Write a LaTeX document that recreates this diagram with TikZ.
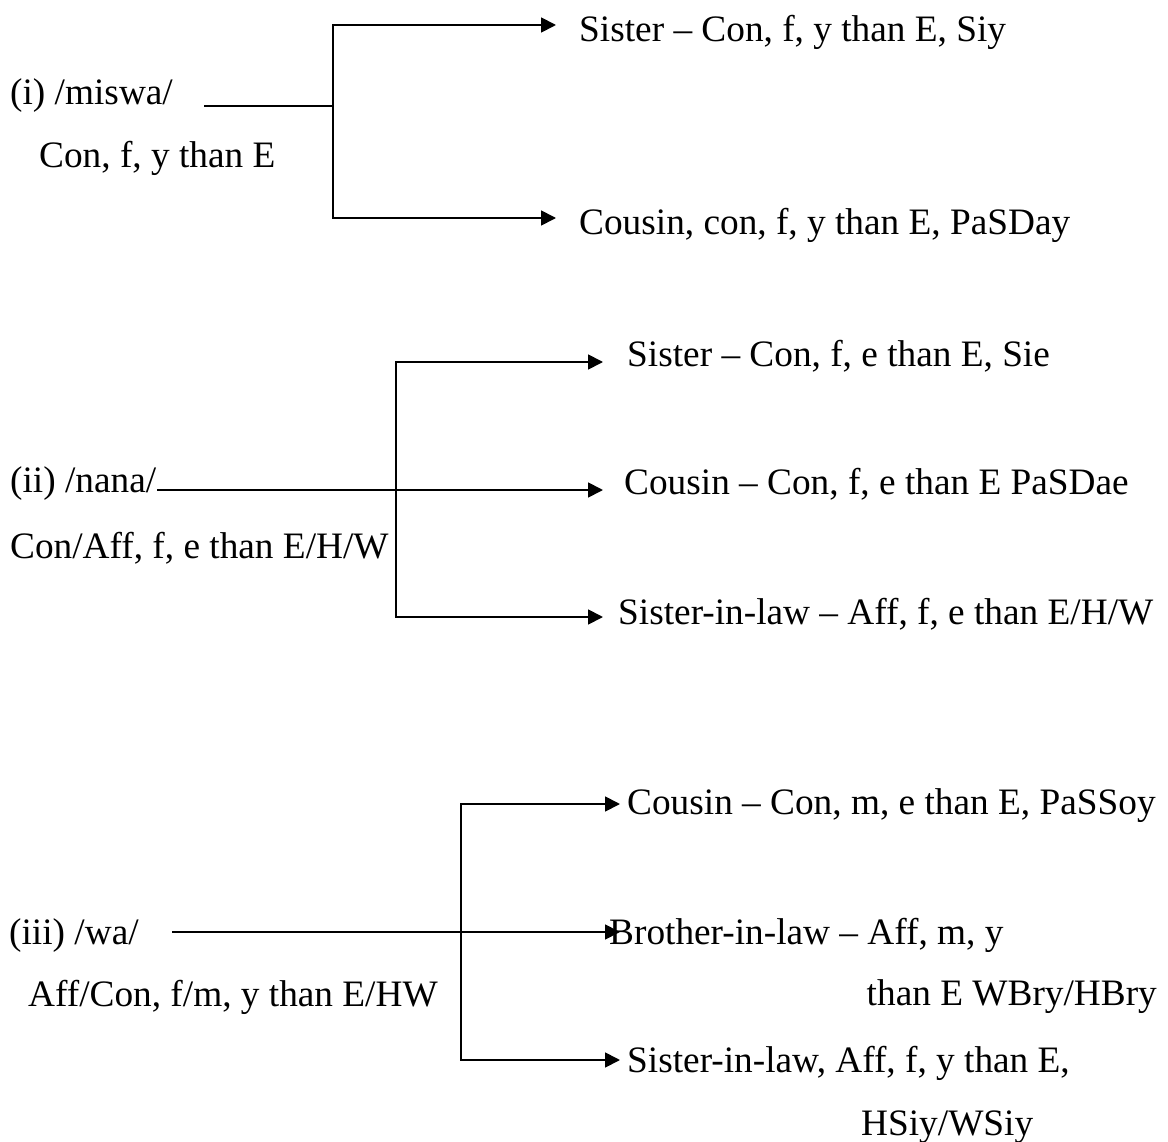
\documentclass[tikz,border=0pt]{standalone}
\usepackage{fontspec}
\setmainfont{Liberation Serif}
\usetikzlibrary{arrows.meta}
\begin{document}
\begin{tikzpicture}[x=1pt,y=-1pt,
  lbl/.style={anchor=base west,inner sep=0pt,font=\fontsize{37.3}{40}\selectfont},
  rlbl/.style={lbl,anchor=base east},
  link/.style={line width=1.8pt,line join=miter},
  arr/.style={link,-{Triangle[length=15pt,width=15pt]}}]
\useasboundingbox (0,0) rectangle (1168,1142);

% ---------- (i) /miswa/ ----------
\node[lbl] (m1) at (10,105) {(i) /miswa/};
\node[lbl] (m2) at (39,168) {Con, f, y than E};
\node[lbl] (m3) at (579,42) {Sister – Con, f, y than E, Siy};
\node[lbl] (m4) at (579,235) {Cousin, con, f, y than E, PaSDay};
\coordinate (ms) at (204,106);
\coordinate (mj) at (333,106);
\coordinate (mt1) at (556,25);
\coordinate (mt2) at (556,218);
\draw[link] (ms) -- (mj);
\draw[arr] (mj) |- (mt1);
\draw[arr] (mj) |- (mt2);

% ---------- (ii) /nana/ ----------
\node[lbl] (n1) at (10,492) {(ii) /nana/};
\node[lbl] (n2) at (10,558) {Con/Aff, f, e than E/H/W};
\node[lbl] (n3) at (627,366) {Sister – Con, f, e than E, Sie};
\node[lbl] (n4) at (624,494) {Cousin – Con, f, e than E PaSDae};
\node[lbl] (n5) at (618,624) {Sister-in-law – Aff, f, e than E/H/W};
\coordinate (ns) at (157,490);
\coordinate (nj) at (396,490);
\coordinate (nt1) at (603,362);
\coordinate (nt2) at (603,490);
\coordinate (nt3) at (603,617);
\draw[arr] (ns) -- (nt2);
\draw[arr] (nj) |- (nt1);
\draw[arr] (nj) |- (nt3);

% ---------- (iii) /wa/ ----------
\node[lbl] (w1) at (9,944) {(iii) /wa/};
\node[lbl] (w2) at (28,1006) {Aff/Con, f/m, y than E/HW};
\node[lbl] (w3) at (627,814) {Cousin – Con, m, e than E, PaSSoy};
\node[lbl] (w4) at (609,944) {Brother-in-law – Aff, m, y};
\node[rlbl] (w5) at (1157,1005) {than E WBry/HBry};
\node[lbl] (w6) at (627,1072) {Sister-in-law, Aff, f, y than E,};
\node[lbl] (w7) at (861,1135) {HSiy/WSiy};
\coordinate (ws) at (172,932);
\coordinate (wj) at (461,932);
\coordinate (wt1) at (620,804);
\coordinate (wt2) at (620,932);
\coordinate (wt3) at (620,1060);
\draw[arr] (ws) -- (wt2);
\draw[arr] (wj) |- (wt1);
\draw[arr] (wj) |- (wt3);
\end{tikzpicture}
\end{document}
